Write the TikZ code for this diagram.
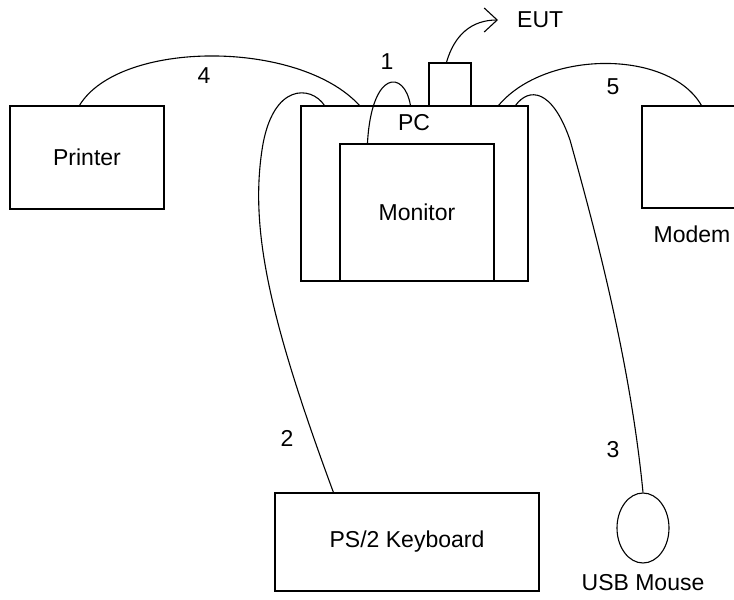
\documentclass[tikz,border=0pt]{standalone}
\usepackage{fontspec}
\setmainfont{Liberation Sans}
\usetikzlibrary{positioning}
\usetikzlibrary{shapes.geometric, arrows.meta}

\begin{document}
\begin{tikzpicture}[x=1pt, y=-1pt,
		every node/.style = {inner sep=0pt, font=\fontsize{23}{27}\selectfont},
		box/.style = {draw, line width=1.1pt},
		cable/.style = {line width=1.1pt}]
		\useasboundingbox (0,0) rectangle (734,600);
		
		\node at (87,157.5) (printer) [box, minimum width=154pt, minimum height=103pt] {Printer};
		\node at (414.5,193.5) (pc) [box, minimum width=227pt, minimum height=175pt] {};
		\node at (417,212.5) (monitor) [box, minimum width=154pt, minimum height=137pt] {Monitor};
		\node at (450,84.5) (plug) [box, minimum width=42pt, minimum height=43pt] {};
		\node at (719,157) (modem) [box, minimum width=154pt, minimum height=102pt] {};
		\node at (407,542) (kbd) [box, minimum width=264pt, minimum height=98pt] {PS/2 Keyboard};
		\node at (643,528) (mouse) [box, ellipse, minimum width=52pt, minimum height=70pt] {};
		
		\node at (414,123) (pclbl) {PC};
		\node at (692,234) (modemlbl) {Modem};
		\node at (643,583) (mouselbl) {USB Mouse};
		
		\coordinate (tip) at (498,20);
		\node (eut) [right=19pt of tip] {EUT};
		
		\node at (387,62) (n1) {1};
		\node at (287,438) (n2) {2};
		\node at (613,450) (n3) {3};
		\node at (204,76) (n4) {4};
		\node at (613,87) (n5) {5};
		
		% cables
		\draw [cable] ([xshift=70pt]printer.north west)
		.. controls +(40,-66) and +(-60,-66) .. ([xshift=59pt]pc.north west);
		\draw [cable] ([xshift=28pt]monitor.north west)
		.. controls +(4,-74) and +(-6,-36) .. ([xshift=110pt]pc.north west);
		\draw [cable] ([xshift=24pt]pc.north west)
		.. controls +(-13,-20) and +(10,-68) .. (262,150)
		.. controls +(-12,80) and +(-64,-173) .. ([xshift=59pt]kbd.north west);
		\draw [cable] ([xshift=-13pt]pc.north east)
		.. controls +(13,-18) and +(-18,-52) .. (570,140)
		.. controls +(25,90) and +(-13,-133) .. (mouse.north);
		\draw [cable] ([xshift=-30pt]pc.north east)
		.. controls +(47,-56) and +(-32,-56) .. ([xshift=60pt]modem.north west);
		\draw [cable, -{Straight Barb[length=13pt, width=24pt]}] ([xshift=18pt]plug.north west)
		.. controls +(8,-28) and +(-26,0) .. (tip);
	\end{tikzpicture}
\end{document}
